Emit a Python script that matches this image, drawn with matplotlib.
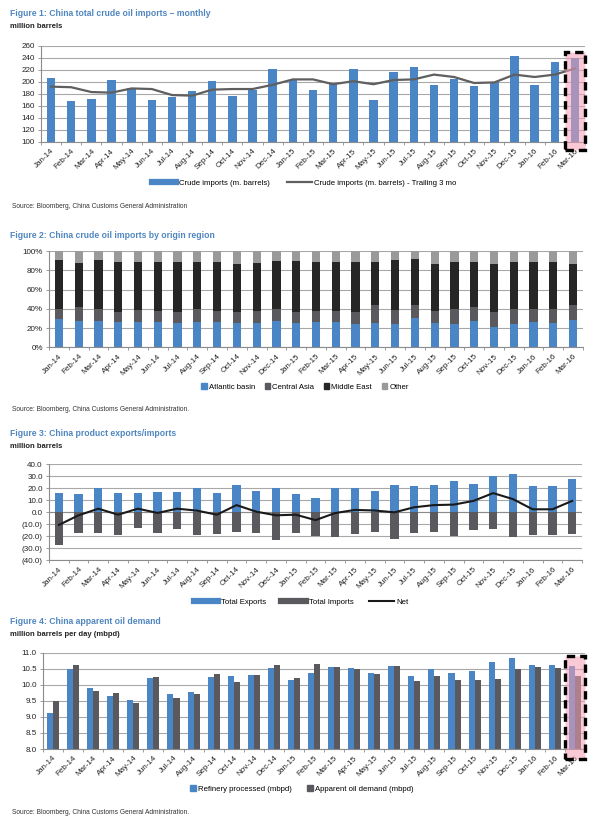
import numpy as np
import matplotlib
matplotlib.use('Agg')
import matplotlib.pyplot as plt
from matplotlib.patches import Rectangle, Patch
from matplotlib.lines import Line2D

plt.rcParams['font.family'] = ['Liberation Sans Narrow', 'Liberation Sans', 'DejaVu Sans']

# Données
months = ['Jan-14', 'Feb-14', 'Mar-14', 'Apr-14', 'May-14', 'Jun-14', 'Jul-14', 'Aug-14', 'Sep-14',
          'Oct-14', 'Nov-14', 'Dec-14', 'Jan-15', 'Feb-15', 'Mar-15', 'Apr-15', 'May-15', 'Jun-15',
          'Jul-15', 'Aug-15', 'Sep-15', 'Oct-15', 'Nov-15', 'Dec-15', 'Jan-16', 'Feb-16', 'Mar-16']

# Figure 1
crude_imports = [206, 168, 172, 203, 190, 170, 174, 185, 202, 176, 186, 222, 203, 186, 196, 222,
                 170, 217, 225, 194, 205, 193, 199, 243, 195, 233, 240]
crude_trailing = [192, 191, 183, 182, 189, 188, 178, 177, 187, 188, 188, 195, 204, 204, 196, 201,
                  196, 203, 204, 212, 208, 198, 199, 212, 208, 212, 222]

# Figure 2 (parts en %)
atlantic = [29, 27.7, 27.7, 26, 26, 26, 25, 26, 26, 25, 25, 27.7, 25, 26.6, 26.6, 24, 25, 24,
            30, 25.6, 24, 27.7, 20.8, 24, 26, 25.6, 28.4]
central_asia = [11, 14.3, 12.3, 11, 13, 12, 12, 14, 12, 12, 13, 12.3, 12, 11.4, 11.4, 13, 18.6, 15,
                13.6, 12.4, 16, 13.8, 16.2, 16, 14, 14.4, 15.2]
middle_east = [50.7, 46, 51, 52, 50, 51, 52, 49, 51, 50, 50, 50, 53, 51, 51, 52, 45.4, 51.6,
               48.1, 49, 49, 47.5, 49, 49, 49, 49, 43.4]
other = [9.3, 12, 9, 11, 11, 11, 11, 11, 11, 13, 12, 10, 10, 11, 11, 11, 11, 9.4,
         8.3, 13, 11, 11, 14, 11, 11, 11, 13]

# Figure 3
total_exports = [16, 15, 20, 16, 16, 16.5, 17, 20, 16, 22.5, 18, 20, 15, 12.3, 20.4, 20, 18, 22.4,
                 21.8, 23, 26, 24, 30, 32, 21.8, 21.8, 27.5]
total_imports = [-27.5, -17.5, -17, -18.6, -13, -17, -14, -18.6, -18, -16, -17, -23, -17, -19.6,
                 -21, -18, -16.5, -22.5, -17.6, -16.8, -19.6, -14.5, -13.7, -20.7, -19.3, -19.3, -18]
net = [-10.5, -2.5, 3, -2, 3, -0.5, 3, 1.4, -2, 6, 0.5, -2.5, -2, -6.5, -0.6, 2, 1.5, 0,
       4.2, 6, 6.4, 9.5, 16, 11, 2.5, 2.5, 9.5]
fig3_ticks = [40, 30, 20, 10, 0, -10, -20, -30, -40]
fig3_ticklabels = ['40.0', '30.0', '20.0', '10.0', '0.0', '(10.0)', '(20.0)', '(30.0)', '(40.0)']

# Figure 4
refinery = [9.12, 10.48, 9.9, 9.65, 9.53, 10.21, 9.7, 9.78, 10.25, 10.27, 10.31, 10.53, 10.14, 10.38,
            10.55, 10.53, 10.37, 10.58, 10.28, 10.48, 10.36, 10.44, 10.71, 10.82, 10.63, 10.63, 10.6]
apparent = [9.5, 10.61, 9.81, 9.74, 9.43, 10.23, 9.6, 9.71, 10.33, 10.08, 10.3, 10.61, 10.21, 10.64,
            10.56, 10.49, 10.35, 10.58, 10.13, 10.28, 10.15, 10.15, 10.18, 10.48, 10.55, 10.53, 10.28]

# Couleurs
blue = '#4A86C5'
dgray = '#5A5A5E'
black = '#262626'
lgray = '#9A9A9A'
title_color = '#4F86C0'
grid_color = '#A8A8A8'
pink = (0.96, 0.62, 0.70, 0.55)

W, H = 600, 827
fig = plt.figure(figsize=(W / 100, H / 100), dpi=100)
fig.set_facecolor('white')
x = np.arange(len(months))


def fx(px):
    return px / W


def fy(py):
    return 1 - py / H


def style_axes(ax):
    for s in ['top', 'right']:
        ax.spines[s].set_visible(False)
    ax.spines['left'].set_color('#8C8C8C')
    ax.spines['bottom'].set_color('#8C8C8C')
    ax.spines['left'].set_linewidth(0.8)
    ax.spines['bottom'].set_linewidth(0.8)
    ax.yaxis.grid(True, color=grid_color, linewidth=0.8)
    ax.set_axisbelow(True)
    ax.set_xlim(-0.5, len(months) - 0.5)
    ax.set_xticks(x)
    ax.set_xticklabels(months, rotation=45, ha='right', rotation_mode='anchor', fontsize=5.8, color='#222222')
    ax.set_xticks(np.arange(-0.5, len(months), 1.0), minor=True)
    ax.tick_params(axis='x', which='major', length=0, pad=4)
    ax.tick_params(axis='x', which='minor', length=2.5, color='#8C8C8C', width=0.6)
    ax.tick_params(axis='y', length=2.5, color='#8C8C8C', width=0.6, labelsize=5.8, labelcolor='#222222', pad=2)


def add_box(ax, y0, y1):
    r = Rectangle((len(months) - 1.5, y0), 1.0, y1 - y0, facecolor=pink, edgecolor='black',
                  linewidth=2.4, linestyle=(0, (2.5, 1.5)), clip_on=False, zorder=5)
    ax.add_patch(r)


# ---- Figure 1
fig.text(fx(10), fy(13), 'Figure 1: China total crude oil imports \u2013 monthly', fontsize=6.2,
         fontweight='bold', color=title_color, va='center')
fig.text(fx(10), fy(26), 'million barrels', fontsize=5.5, fontweight='bold', color='#222222', va='center')
ax1 = fig.add_axes([fx(41), fy(142), fx(585 - 41), (142 - 45.7) / H])
ax1.bar(x, crude_imports, width=0.42, color=blue, zorder=2)
ax1.plot(x, crude_trailing, color='#5F5F5F', linewidth=1.6, zorder=3)
ax1.set_ylim(100, 260)
ax1.set_yticks(range(100, 261, 20))
style_axes(ax1)
add_box(ax1, 86, 249)
h1 = [Line2D([], [], color=blue, linewidth=4.5), Line2D([], [], color='#5F5F5F', linewidth=1.6)]
fig.legend(h1, ['Crude imports (m. barrels)', 'Crude imports (m. barrels) - Trailing 3 mo'],
           loc='center', bbox_to_anchor=(fx(304), fy(183)), ncol=2, frameon=False, fontsize=5.6,
           handlelength=3.2, columnspacing=2.2, handletextpad=0.3)
fig.text(fx(12), fy(207), 'Source: Bloomberg, China Customs General Administration', fontsize=4.8,
         color='#333333', va='center')

# ---- Figure 2
fig.text(fx(10), fy(236), 'Figure 2: China crude oil imports by origin region', fontsize=6.2,
         fontweight='bold', color=title_color, va='center')
ax2 = fig.add_axes([fx(49), fy(347.3), fx(583 - 49), (347.3 - 251) / H])
bottom = np.zeros(len(months))
for vals, col in [(atlantic, blue), (central_asia, dgray), (middle_east, black), (other, lgray)]:
    ax2.bar(x, vals, bottom=bottom, width=0.42, color=col, zorder=2)
    bottom = bottom + np.array(vals)
ax2.set_ylim(0, 100)
ax2.set_yticks(range(0, 101, 20))
ax2.set_yticklabels([f'{v}%' for v in range(0, 101, 20)])
style_axes(ax2)
h2 = [Patch(color=c) for c in [blue, dgray, black, lgray]]
fig.legend(h2, ['Atlantic basin', 'Central Asia', 'Middle East', 'Other'], loc='center',
           bbox_to_anchor=(fx(305), fy(387)), ncol=4, frameon=False, fontsize=5.6,
           handlelength=0.7, handleheight=0.7, columnspacing=1.2, handletextpad=0.3)
fig.text(fx(12), fy(410), 'Source: Bloomberg, China Customs General Administration.', fontsize=4.8,
         color='#333333', va='center')

# ---- Figure 3
fig.text(fx(10), fy(433), 'Figure 3: China product exports/imports', fontsize=6.2,
         fontweight='bold', color=title_color, va='center')
fig.text(fx(10), fy(446), 'million barrels', fontsize=5.5, fontweight='bold', color='#222222', va='center')
ax3 = fig.add_axes([fx(49), fy(560.3), fx(582 - 49), (560.3 - 464.3) / H])
ax3.bar(x, total_exports, width=0.42, color=blue, zorder=2)
ax3.bar(x, total_imports, width=0.42, color=dgray, zorder=2)
ax3.plot(x, net, color='#1A1A1A', linewidth=1.5, zorder=3)
ax3.set_ylim(-40, 40)
ax3.set_yticks(fig3_ticks)
ax3.set_yticklabels(fig3_ticklabels)
style_axes(ax3)
ax3.axhline(0, color='#8C8C8C', linewidth=0.8, zorder=1)
h3 = [Line2D([], [], color=blue, linewidth=4.5), Line2D([], [], color=dgray, linewidth=4.5),
      Line2D([], [], color='#1A1A1A', linewidth=1.5)]
fig.legend(h3, ['Total Exports', 'Total Imports', 'Net'], loc='center',
           bbox_to_anchor=(fx(301), fy(602)), ncol=3, frameon=False, fontsize=5.6,
           handlelength=3.2, columnspacing=2.0, handletextpad=0.3)

# ---- Figure 4
fig.text(fx(10), fy(621), 'Figure 4: China apparent oil demand', fontsize=6.2,
         fontweight='bold', color=title_color, va='center')
fig.text(fx(10), fy(634), 'million barrels per day (mbpd)', fontsize=5.5, fontweight='bold',
         color='#222222', va='center')
ax4 = fig.add_axes([fx(43), fy(749), fx(585 - 43), (749 - 652.7) / H])
ax4.bar(x - 0.15, refinery, width=0.3, color=blue, zorder=2)
ax4.bar(x + 0.15, apparent, width=0.3, color=dgray, zorder=2)
ax4.set_ylim(8.0, 11.0)
ax4.set_yticks(np.arange(8.0, 11.01, 0.5))
ax4.yaxis.set_major_formatter(matplotlib.ticker.FormatStrFormatter('%.1f'))
style_axes(ax4)
add_box(ax4, 7.7, 10.9)
h4 = [Patch(color=blue), Patch(color=dgray)]
fig.legend(h4, ['Refinery processed (mbpd)', 'Apparent oil demand (mbpd)'], loc='center',
           bbox_to_anchor=(fx(302), fy(789)), ncol=2, frameon=False, fontsize=5.6,
           handlelength=0.7, handleheight=0.7, columnspacing=2.0, handletextpad=0.3)
fig.text(fx(12), fy(813), 'Source: Bloomberg, China Customs General Administration.', fontsize=4.8,
         color='#333333', va='center')

fig.savefig('out.png', dpi=100, facecolor='white')
